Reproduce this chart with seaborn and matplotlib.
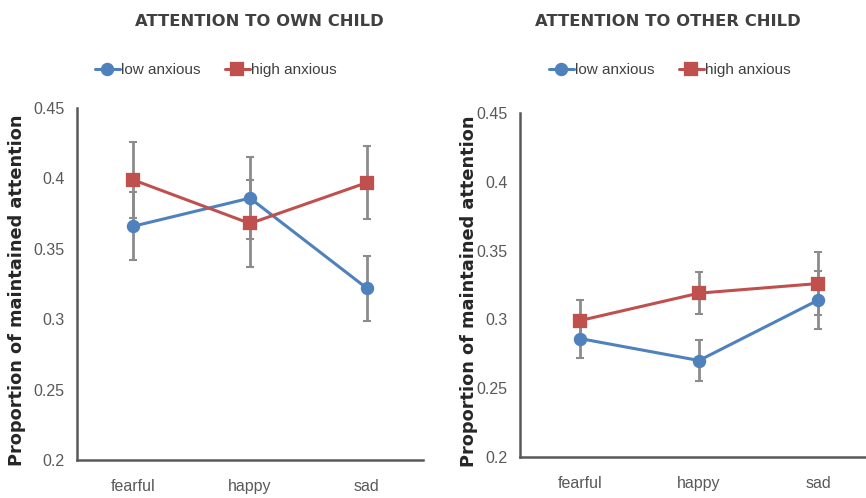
import pandas as pd
import seaborn as sns
import matplotlib.pyplot as plt

emotions = ["fearful", "happy", "sad"]
groups = ["low anxious", "high anxious"]

# attention to own child
own_low = [0.366, 0.386, 0.322]
own_low_err = [0.024, 0.029, 0.023]
own_high = [0.399, 0.368, 0.397]
own_high_err = [0.027, 0.031, 0.026]

# attention to other child
other_low = [0.286, 0.270, 0.314]
other_low_err = [0.014, 0.015, 0.021]
other_high = [0.299, 0.319, 0.326]
other_high_err = [0.015, 0.0155, 0.023]

yticks = [0.2, 0.25, 0.3, 0.35, 0.4, 0.45]
ytick_labels = ["0.2", "0.25", "0.3", "0.35", "0.4", "0.45"]

colors = {"low anxious": "#4F81BD", "high anxious": "#C0504D"}
markers = ["o", "s"]

sns.set_style("white")
plt.rcParams["font.family"] = ["Liberation Sans", "DejaVu Sans"]


def make_df(low, high):
    return pd.DataFrame({
        "emotion": emotions * 2,
        "group": [groups[0]] * 3 + [groups[1]] * 3,
        "value": list(low) + list(high),
    })


def draw_panel(ax, low, low_err, high, high_err, title, title_x, legend_x,
               xlim, label_x):
    df = make_df(low, high)
    for vals, errs in [(low, low_err), (high, high_err)]:
        ax.errorbar(range(len(emotions)), vals, yerr=errs, fmt="none",
                    ecolor="#8c8c8c", elinewidth=2, capsize=3, capthick=1.5,
                    zorder=1)
    sns.pointplot(data=df, x="emotion", y="value", hue="group", order=emotions,
                  hue_order=groups, palette=colors, markers=markers,
                  linestyles=["-", "-"], errorbar=None, markersize=8,
                  linewidth=2.2, ax=ax, zorder=3)
    ax.set_ylim(0.2, 0.45)
    ax.set_xlim(*xlim)
    ax.set_yticks(yticks)
    ax.set_yticklabels(ytick_labels)
    ax.tick_params(axis="both", length=0, labelsize=11.5, colors="#595959")
    ax.tick_params(axis="y", pad=9)
    ax.tick_params(axis="x", pad=14)
    ax.set_xlabel("")
    ax.set_ylabel("Proportion of maintained attention", fontsize=12.8,
                  fontweight="bold", color="#262626", family=["DejaVu Sans"])
    ax.yaxis.set_label_coords(label_x, 0.482)
    for side in ["top", "right"]:
        ax.spines[side].set_visible(False)
    for side in ["left", "bottom"]:
        ax.spines[side].set_color("#595959")
        ax.spines[side].set_linewidth(1.8)
    sns.move_legend(ax, "center", bbox_to_anchor=(legend_x, 1 - 70 / 498),
                    bbox_transform=ax.figure.transFigure, ncol=2,
                    frameon=False, title=None, fontsize=11,
                    handlelength=1.6, handletextpad=0.1, columnspacing=1.6,
                    labelcolor="#404040")
    ax.figure.text(title_x, 1 - 22 / 498, title, ha="center", va="center",
                   fontsize=11.8, fontweight="bold", color="#404040",
                   family=["DejaVu Sans"])


fig = plt.figure(figsize=(8.66, 4.98), dpi=100)
ax1 = fig.add_axes([0.0889, 0.0763, 0.3995, 0.7068])
ax2 = fig.add_axes([0.6005, 0.0829, 0.3995, 0.690])

draw_panel(ax1, own_low, own_low_err, own_high, own_high_err,
           "ATTENTION TO OWN CHILD", 259 / 866, 216 / 866, (-0.48, 2.48),
           -0.147)
draw_panel(ax2, other_low, other_low_err, other_high, other_high_err,
           "ATTENTION TO OTHER CHILD", 668 / 866, 670 / 866, (-0.5, 2.4),
           -0.121)

fig.savefig("out.png", dpi=100)
